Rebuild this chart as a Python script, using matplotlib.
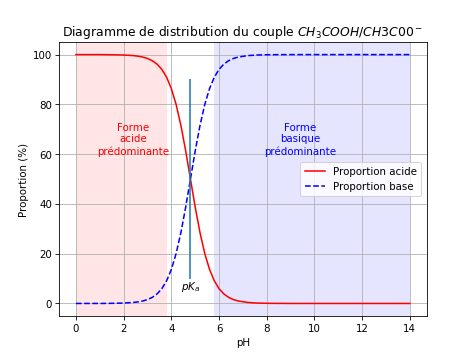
import matplotlib
matplotlib.use("Agg")
import matplotlib.pyplot as plt

# pH values and proportions (pKa = 4.8)
ph = [0, 1, 1.5, 2, 2.4, 2.6, 2.8, 3.0, 3.2, 3.4, 3.6, 3.8, 4.0, 4.2, 4.4, 4.6,
      4.8, 5.0, 5.2, 5.4, 5.6, 5.8, 6.0, 6.2, 6.4, 6.6, 6.8, 7.2, 7.6, 8, 9,
      10, 11, 12, 13, 14]
acide = [100.0, 100.0, 99.95, 99.84, 99.60, 99.37, 99.01, 98.44, 97.55, 96.17,
         94.07, 90.91, 86.32, 79.92, 71.53, 61.31, 50.0, 38.69, 28.47, 20.08,
         13.68, 9.09, 5.93, 3.83, 2.45, 1.56, 0.99, 0.40, 0.16, 0.06, 0.0,
         0.0, 0.0, 0.0, 0.0, 0.0]
base = [0.0, 0.0, 0.05, 0.16, 0.40, 0.63, 0.99, 1.56, 2.45, 3.83,
        5.93, 9.09, 13.68, 20.08, 28.47, 38.69, 50.0, 61.31, 71.53, 79.92,
        86.32, 90.91, 94.07, 96.17, 97.55, 98.44, 99.01, 99.60, 99.84, 99.94, 100.0,
        100.0, 100.0, 100.0, 100.0, 100.0]
pka = 4.8

fig = plt.figure(figsize=(6.4, 4.8), dpi=474 / 6.4)

plt.axvspan(0, 3.8, color="red", alpha=0.1, lw=0)
plt.axvspan(5.8, 14, color="blue", alpha=0.1, lw=0)

plt.plot(ph, acide, "r-", label="Proportion acide")
plt.plot(ph, base, "b--", label="Proportion base")

plt.vlines(pka, 10, 90)
plt.text(pka, 4, "$pK_a$", ha="center", va="bottom")

plt.text(2.4, 66, "Forme\nacide\nprédominante", color="red", ha="center", va="center")
plt.text(9.4, 66, "Forme\nbasique\nprédominante", color="blue", ha="center", va="center")

plt.grid(True)
plt.legend(loc="center right")
plt.title("Diagramme de distribution du couple $CH_3COOH/CH3C00^-$")
plt.xlabel("pH")
plt.ylabel("Proportion (%)")

plt.savefig("out.png", dpi=474 / 6.4)
